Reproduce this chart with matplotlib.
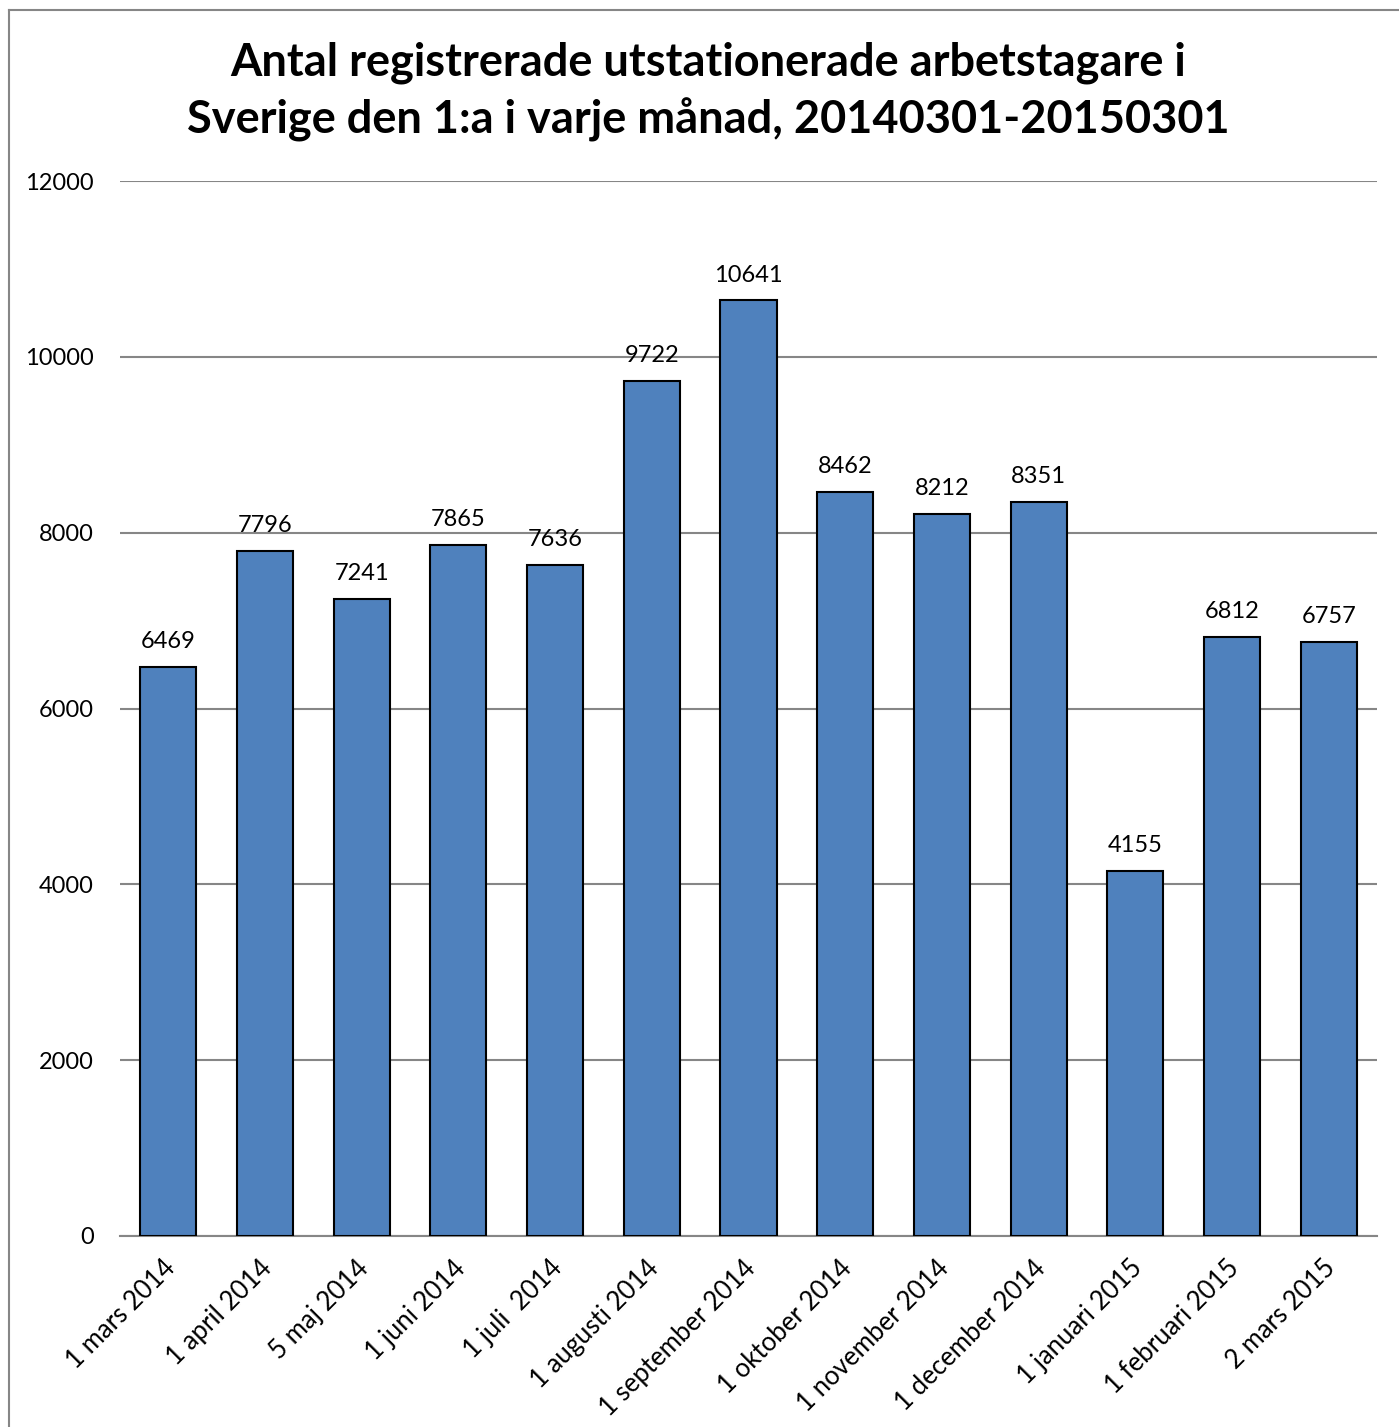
import matplotlib.pyplot as plt
import matplotlib.transforms as mtransforms
import numpy as np
from matplotlib.lines import Line2D

# Data
dates = ['1 mars 2014', '1 april 2014', '5 maj 2014', '1 juni 2014', '1 juli  2014',
         '1 augusti 2014', '1 september 2014', '1 oktober 2014', '1 november 2014',
         '1 december 2014', '1 januari 2015', '1 februari 2015', '2 mars 2015']
workers = [6469, 7796, 7241, 7865, 7636, 9722, 10641, 8462, 8212, 8351, 4155, 6812, 6757]
yticks = [0, 2000, 4000, 6000, 8000, 10000, 12000]

plt.rcParams['font.family'] = ['Lato', 'DejaVu Sans']

fig = plt.figure(figsize=(13.99, 14.27), dpi=100)
ax = fig.add_axes([120/1399, 1 - 1236/1427, (1377-120)/1399, (1236-181)/1427])

x = np.arange(len(dates))
ax.bar(x, workers, width=0.58, color='#4F81BD', edgecolor='black', linewidth=1.5, zorder=3)
for xi, v in zip(x, workers):
    ax.text(xi, v + 170, str(v), ha='center', va='bottom', fontsize=17)

ax.set_xlim(-0.5, len(dates) - 0.5)
ax.set_ylim(0, 12000)
ax.set_yticks(yticks)
ax.set_yticklabels([str(t) for t in yticks], fontsize=17)
ax.yaxis.grid(True, color='#868686', linewidth=1.5, zorder=0)
ax.set_xticks(x)
ax.set_xticklabels(dates, rotation=45, ha='right', rotation_mode='anchor', fontsize=18.5)
ax.tick_params(axis='y', length=0, pad=19)
ax.tick_params(axis='x', length=0, pad=14)
# nudge the rotated labels a little to the left
shift = mtransforms.ScaledTranslation(-6/100, 0, fig.dpi_scale_trans)
for lbl in ax.get_xticklabels():
    lbl.set_transform(lbl.get_transform() + shift)
for s in ['left', 'right', 'top']:
    ax.spines[s].set_visible(False)
ax.spines['bottom'].set_color('#868686')
ax.spines['bottom'].set_linewidth(1.5)

fig.text(0.506, 1 - 63/1427, 'Antal registrerade utstationerade arbetstagare i',
         ha='center', va='center', fontsize=32.5, fontweight='bold')
fig.text(0.506, 1 - 120/1427, 'Sverige den 1:a i varje månad, 20140301-20150301',
         ha='center', va='center', fontsize=32.5, fontweight='bold')

# outer chart border (left and top edges visible)
fig.add_artist(Line2D([9/1399, 9/1399], [0, 1 - 10/1427], color='#868686', linewidth=1.5))
fig.add_artist(Line2D([9/1399, 1], [1 - 10/1427, 1 - 10/1427], color='#868686', linewidth=1.5))

fig.savefig('out.png', dpi=100)
